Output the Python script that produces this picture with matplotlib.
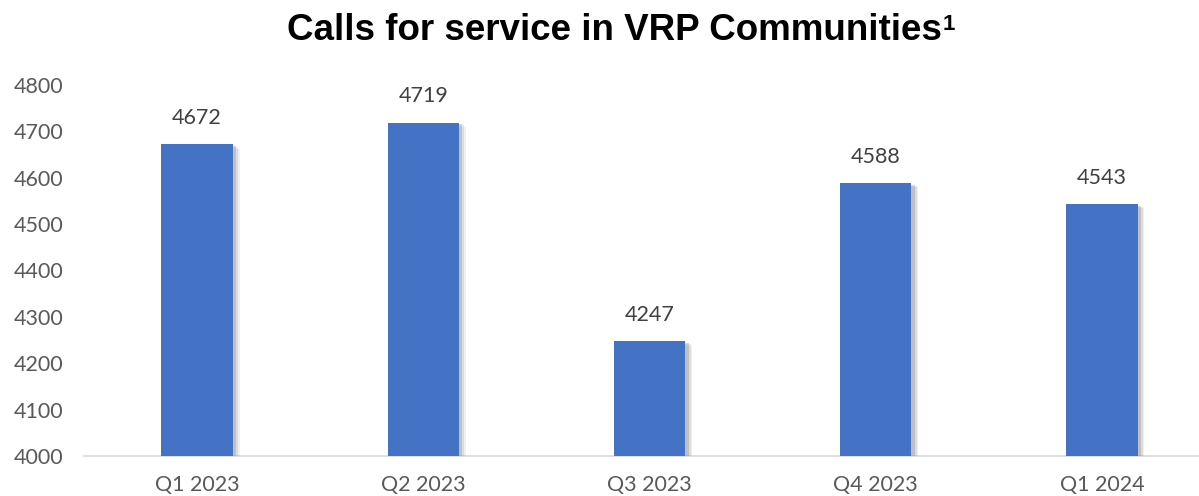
import matplotlib
matplotlib.use("Agg")
import matplotlib.pyplot as plt
import matplotlib.patheffects as pe

quarters = ["Q1 2023", "Q2 2023", "Q3 2023", "Q4 2023", "Q1 2024"]
calls = [4672, 4719, 4247, 4588, 4543]
yticks = [4000, 4100, 4200, 4300, 4400, 4500, 4600, 4700, 4800]

W, H = 1199, 496
fig = plt.figure(figsize=(W / 100, H / 100), dpi=100)

# axes run a bit past the right edge, like the cropped original
left, right, top, bottom = 84, 1215, 85, 456
ax = fig.add_axes([left / W, 1 - bottom / H, (right - left) / W, (bottom - top) / H])

bars = ax.bar(range(len(quarters)), calls, width=0.315, color="#4472C4", zorder=3)
# soft shadow: a few offset layers
for b in bars:
    b.set_path_effects([
        pe.SimplePatchShadow(offset=(5, -3), shadow_rgbFace="#a0a0a0", alpha=0.15),
        pe.SimplePatchShadow(offset=(4, -2), shadow_rgbFace="#909090", alpha=0.2),
        pe.SimplePatchShadow(offset=(2.5, -1), shadow_rgbFace="#808080", alpha=0.3),
        pe.Normal(),
    ])

for i, v in enumerate(calls):
    ax.annotate(str(v), (i, v), xytext=(0, 12), textcoords="offset points",
                ha="center", va="bottom", fontsize=15.5, color="#404040",
                family="Lato")

ax.set_xlim(-0.5, len(quarters) - 0.5)
ax.set_ylim(4000, 4800)
ax.set_yticks(yticks)
ax.set_xticks(range(len(quarters)))
ax.set_xticklabels(quarters)

for lab in ax.get_xticklabels() + ax.get_yticklabels():
    lab.set_family("Lato")
    lab.set_fontsize(15.5)
    lab.set_color("#595959")

ax.tick_params(axis="both", length=0)
ax.tick_params(axis="x", pad=14)
ax.tick_params(axis="y", pad=15)

for s in ["top", "right", "left"]:
    ax.spines[s].set_visible(False)
ax.spines["bottom"].set_color("#d9d9d9")
ax.spines["bottom"].set_linewidth(1.2)

title = fig.text(614 / W, 1 - 30 / H, "Calls for service in VRP Communities",
                 ha="center", va="center", fontsize=26.5, fontweight="bold",
                 family="Liberation Sans", color="black")
fig.canvas.draw()
bb = title.get_window_extent()
fig.text(bb.x1 / W + 1 / W, bb.y1 / H - 2 / H, "1", ha="left", va="top",
         fontsize=16, fontweight="bold", family="Liberation Sans", color="black")

fig.savefig("out.png", dpi=100)
